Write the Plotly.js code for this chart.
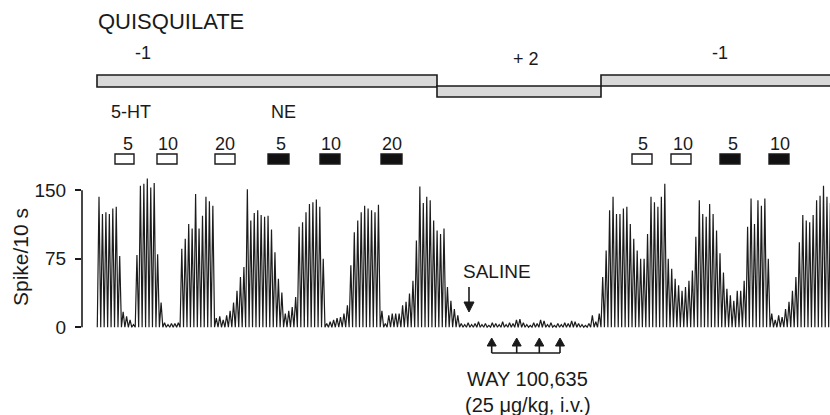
<!DOCTYPE html>
<html>
<head>
<meta charset="utf-8">
<script src="https://cdn.plot.ly/plotly-3.0.1.min.js"></script>
<style>html,body{margin:0;padding:0;background:#fff;}#chart{width:830px;height:415px;}</style>
</head>
<body>
<div id="chart"></div>
<script>
// Ratemeter values (spikes / 10 s), one per bin
const rateBeforeWay = [
  143,124,126,124,130,132,78,
  17,12,8,3,
  79,155,157,163,153,158,80,27,
  5,3,4,4,5,
  86,97,113,108,146,108,122,143,138,133,
  10,12,8,13,18,27,40,55,
  66,151,117,125,128,123,121,122,107,82,53,38,
  15,18,22,33,
  110,115,126,135,137,140,132,75,
  4,6,8,10,11,15,24,
  68,104,117,126,133,130,128,126,134,
  18,4,13,15,15,15,24,28,37,51,
  95,154,136,143,139,117,106,102,108,44,29,20,13,4
];
const rateAfterWay = [
  3,5,3,4,6,3,4,2,5,4,3,6,3,5,4,8,9,5,3,2,5,4,8,7,3,5,2,4,3,5,4,7,6,4,3,2,4,
  13,6
];
const rateRecovery = [
  15,55,84,128,143,124,124,130,132,113,
  97,84,75,75,102,143,137,132,143,157,
  75,64,53,46,40,44,51,62,99,139,
  124,121,135,124,106,81,60,42,35,29,
  40,40,51,110,141,113,139,133,141,75,
  15,8,13,11,20,28,40,55,93,123,
  117,115,123,139,144,155,143,136
];
const yTicks = [0, 75, 150];
const yTickText = ['0', '75', '150'];
const quisLevels = ['-1', '+ 2', '-1'];
const agents = ['5-HT', 'NE'];
const doseLabels = ['5', '10', '20', '5', '10', '20', '5', '10', '5', '10'];
const doseAgent  = ['5-HT', '5-HT', '5-HT', 'NE', 'NE', 'NE', '5-HT', '5-HT', 'NE', 'NE'];

const rate = [].concat(rateBeforeWay, rateAfterWay, rateRecovery);
const xs = [], ys = [];
rate.forEach((v, i) => { xs.push(i - 0.5, i); ys.push(0, v); });
xs.push(rate.length - 0.5); ys.push(0);

// pixel helpers for decorations (plot area: left 82, right 830, top 172, bottom 330)
const L = 82, R = 830, T = 172, B = 330;
const px = x => (x - L) / (R - L);
const py = y => (B - y) / (B - T);
const FONT = '"Liberation Sans", Arial, sans-serif';
const INK = '#1a1a1a';

const ann = (text, x, y, size, extra) => Object.assign({
  text: text, xref: 'paper', yref: 'paper', x: px(x), y: py(y),
  xanchor: 'center', yanchor: 'middle', showarrow: false,
  font: {family: FONT, size: size, color: INK}
}, extra || {});

const annotations = [
  ann('QUISQUILATE', 96, 21, 22, {xanchor: 'left'}),
  ann(quisLevels[0], 142.5, 52.5, 18),
  ann(quisLevels[1], 526, 59, 18),
  ann(quisLevels[2], 720, 52.5, 18),
  ann(agents[0], 131, 112, 18),
  ann(agents[1], 283.5, 112, 18),
  ann('SALINE', 496.5, 271.5, 19),
  ann('WAY 100,635', 527.5, 379, 20),
  ann('(25 μg/kg, i.v.)', 528, 405, 20),
  ann('Spike/10 s', 20, 257, 21, {textangle: -90})
];
const doseX = [127.5, 168, 225, 281, 331, 392, 643, 682.5, 732.5, 780];
const boxX = [[115,134],[157,177],[215,235],[268,289],[320,340],[381,402],[632,652],[671,691],[720,740],[769,789]];
doseLabels.forEach((d, i) => annotations.push(ann(d, doseX[i], 144, 18)));

const rect = (x0, y0, x1, y1, fill, w) => ({
  type: 'rect', xref: 'paper', yref: 'paper',
  x0: px(x0), x1: px(x1), y0: py(y0), y1: py(y1),
  fillcolor: fill, line: {color: INK, width: w}
});
const seg = (x0, y0, x1, y1, w) => ({
  type: 'line', xref: 'paper', yref: 'paper',
  x0: px(x0), x1: px(x1), y0: py(y0), y1: py(y1),
  line: {color: INK, width: w}
});
const tri = pts => ({
  type: 'path', xref: 'paper', yref: 'paper',
  path: 'M' + pts.map(p => px(p[0]) + ',' + py(p[1])).join(' L') + ' Z',
  fillcolor: INK, line: {color: INK, width: 1}
});

const shapes = [
  rect(97, 75, 437, 87, '#d9d9d9', 1.6),
  rect(437, 86, 601, 97, '#d9d9d9', 1.6),
  rect(601, 75, 840, 86, '#d9d9d9', 1.6),
  {type: 'line', xref: 'paper', yref: 'y', x0: 0, x1: 0, y0: 0, y1: 150, line: {color: INK, width: 1.6}},
  // saline arrow
  seg(469, 287, 469, 304, 1.6),
  tri([[464, 302], [474, 302], [469, 312]]),
  // WAY bracket
  seg(491.7, 353, 560, 353, 1.6)
];
boxX.forEach((b, i) => shapes.push(rect(b[0], 154, b[1], 164, doseAgent[i] === 'NE' ? '#111' : '#fff', 1.4)));
[491.7, 516.7, 539.3, 560].forEach(x => {
  shapes.push(seg(x, 345, x, 353, 1.6));
  shapes.push(tri([[x - 4.5, 346], [x + 4.5, 346], [x, 338]]));
});

const data = [{
  type: 'scatter', mode: 'lines', x: xs, y: ys,
  line: {color: '#1c1c1c', width: 1.2}, hoverinfo: 'skip'
}];

const x0px = 99, binPx = 3.45;
const layout = {
  width: 830, height: 415,
  margin: {l: L, r: 830 - R, t: T, b: 415 - B, pad: 0},
  paper_bgcolor: '#fff', plot_bgcolor: '#fff', showlegend: false,
  font: {family: FONT, color: INK},
  xaxis: {
    range: [(L - x0px) / binPx, (R - x0px) / binPx],
    visible: false, showgrid: false, zeroline: false
  },
  yaxis: {
    range: [-3, 170], showgrid: false, zeroline: false, showline: false,
    ticks: 'outside', ticklen: 6, tickwidth: 1.6, tickcolor: INK,
    tickvals: yTicks, ticktext: yTickText, ticklabelstandoff: 5,
    tickfont: {family: FONT, size: 19, color: INK}
  },
  annotations: annotations,
  shapes: shapes
};
Plotly.newPlot('chart', data, layout, {staticPlot: true, displayModeBar: false});
</script>
</body>
</html>
